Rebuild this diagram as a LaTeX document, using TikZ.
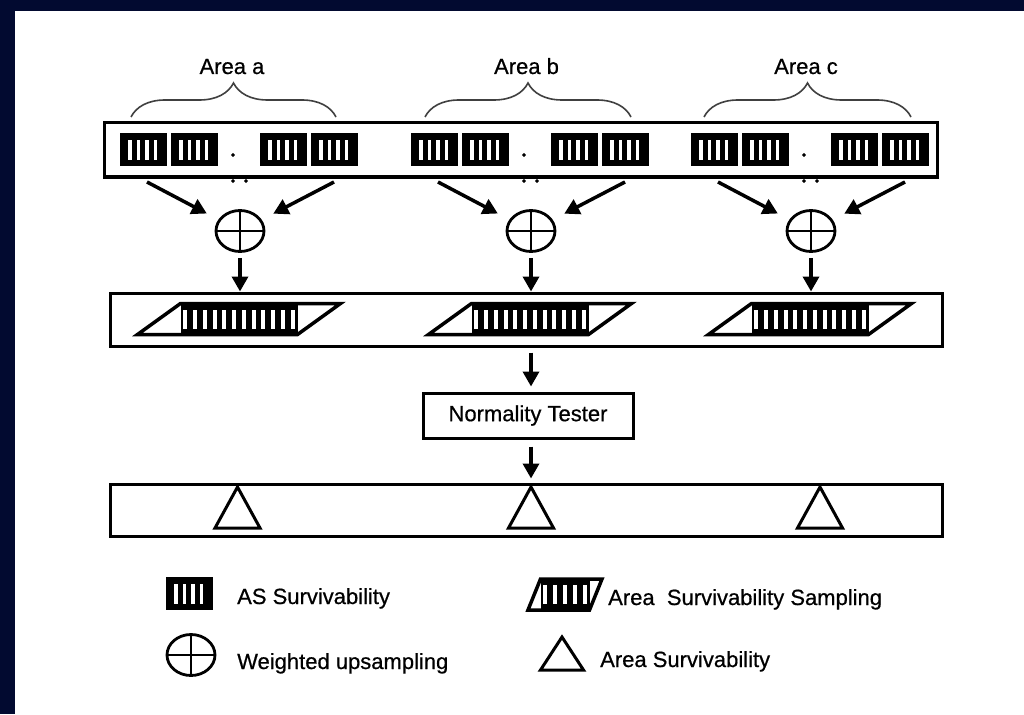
\documentclass[tikz,border=0pt]{standalone}
\usepackage{fontspec}
\setmainfont{Liberation Sans}[BoldFont={Liberation Sans},BoldFeatures={FakeBold=0.6}]
\usetikzlibrary{arrows.meta,shapes.geometric,decorations.pathreplacing,calc}

\definecolor{nightblue}{RGB}{2,10,48}

% one AS survivability cell, top-left corner at (#1,#2)
\newcommand{\ascell}[2]{%
  \fill (#1,#2) rectangle ++(47,33);
  \foreach \s in {8,16.5,25,33.5}
    \fill[white] (#1+\s,#2+7) rectangle ++(3.5,20);}

% sampling bar: centre x, centre y, half length, slant, slits, half height
\newcommand{\sampbar}[6]{%
  \fill (#1-#3+#4,#2-#6) rectangle (#1+#3-#4,#2+#6);
  \pgfmathsetmacro\pitch{(2*#3-2*#4)/#5}
  \foreach \k in {1,...,#5}
    \fill[white] ({#1-#3+#4+(\k-0.5)*\pitch-2},#2-#6+6) rectangle ++(4,2*#6-12);
  \draw[line width=3.5pt] (#1-#3,#2+#6) -- (#1+#3-#4,#2+#6) -- (#1+#3,#2-#6)
    -- (#1-#3+#4,#2-#6) -- cycle;}

% area survivability triangle: apex x, apex y, width, height
\newcommand{\areatri}[4]{%
  \draw[tri] (#1,#2) -- ++(-#3/2,#4) -- ++(#3,0) -- cycle;}

\begin{document}
\begin{tikzpicture}[x=1pt,y=-1pt,font=\fontsize{22}{26}\selectfont\bfseries,
    box/.style={draw,line width=3pt,inner sep=0pt},
    arr/.style={-{Triangle[width=16pt,length=15pt]},line width=3.5pt},
    wsum/.style={ellipse,draw,line width=2.8pt,minimum width=48pt,
      minimum height=41pt,inner sep=0pt,
      path picture={\draw[line width=2.5pt]
        (path picture bounding box.north) -- (path picture bounding box.south)
        (path picture bounding box.west) -- (path picture bounding box.east);}},
    tri/.style={line width=3pt,line join=miter},
    brc/.style={decorate,decoration={brace,amplitude=34pt},line width=1.6pt,black!75},
    txt/.style={anchor=base west,inner sep=0pt}]
  \useasboundingbox (0,0) rectangle (1024,714);
  \fill[nightblue] (0,0) rectangle (1024,714);
  \fill[white] (15,11) rectangle (1024,714);

  \node[box,minimum width=833pt,minimum height=54pt] (asrow) at (520.5,150) {};
  \node[box,minimum width=832pt,minimum height=53pt] (mid) at (526,319.5) {};
  \node[box,minimum width=210pt,minimum height=45pt] (tester) at (528,415.5) {Normality Tester};
  \node[box,minimum width=832pt,minimum height=52pt] (out) at (526,510) {};

  \foreach \n/\x/\bl/\br/\tx in {a/239/131/336/237.5, b/530/425/631/531, c/810/704/911/820} {
    \draw[brc] (\bl,117) -- (\br,117);
    \node[anchor=base] (lab\n) at ({(\bl+\br)/2-1.5},74) {Area \n};
    \foreach \o in {-119,-68,21,72}
      \ascell{\x+\o}{133}
    \fill (\x-6,155) circle (1.6pt) (\x-6,181) circle (1.6pt) (\x+7,181) circle (1.6pt);
    \node[wsum] (p\n) at (\x+1,231) {};
    \coordinate (l\n) at (\x-92,182);
    \coordinate (r\n) at (\x+95,182);
    \draw[arr,shorten >=13pt] (l\n) -- (p\n);
    \draw[arr,shorten >=13pt] (r\n) -- (p\n);
    \draw[arr,shorten <=5pt] (p\n.south) -- (p\n.south |- mid.north);
    \sampbar{\x}{319}{101.5}{43}{12}{15.5}
    \areatri{\tx}{487}{45}{41}
  }

  \draw[arr,shorten <=5pt,shorten >=5pt] (mid.south -| pb) -- (tester.north -| pb);
  \draw[arr,shorten <=7pt,shorten >=4pt] (tester.south -| pb) -- (out.north -| pb);

  % legend
  \ascell{166}{577}
  \node[txt] (lgas) at (237,604) {AS Survivability};
  \node[wsum] (lgw) at (191,655) {};
  \node[txt] (lgwt) at (237,669) {Weighted upsampling};
  \sampbar{565}{594.5}{37}{12.5}{5}{15.5}
  \node[txt] (lgsamp) at (608,605) {Area\ \ Survivability Sampling};
  \areatri{562}{637}{43}{33}
  \node[txt] (lgarea) at (600,667) {Area Survivability};
\end{tikzpicture}
\end{document}
